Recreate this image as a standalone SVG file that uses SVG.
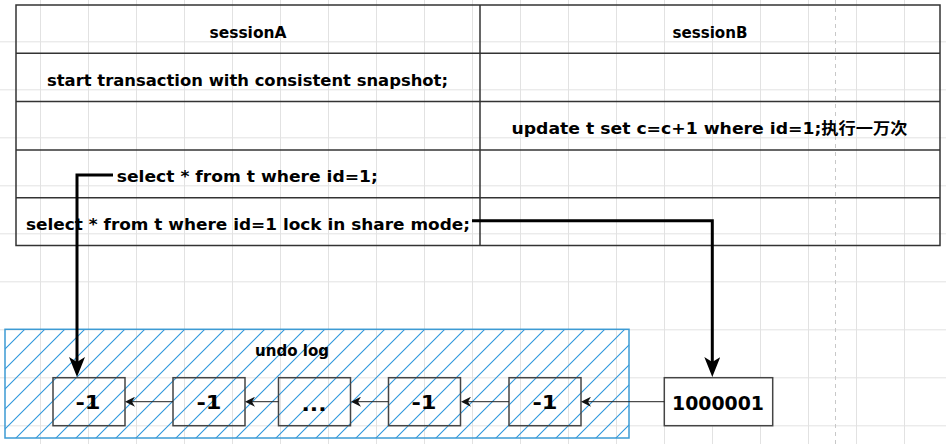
<svg xmlns="http://www.w3.org/2000/svg" width="946" height="444" viewBox="0 0 946 444">
  <defs>
    <pattern id="hatch" patternUnits="userSpaceOnUse" width="20" height="20" x="5" y="9">
      <path d="M-5,5 L5,-5 M0,20 L20,0 M15,25 L25,15" fill="none" style="stroke:#2f97dc;stroke-width:1.1"/>
    </pattern>
    <pattern id="grid" patternUnits="userSpaceOnUse" width="48" height="48" x="40" y="41.3">
      <path d="M0.5,0 L0.5,48 M0,0.5 L48,0.5" stroke="#e2e2e2" stroke-width="1" fill="none"/>
    </pattern>
    <marker id="bigArrow" viewBox="0 0 20 16" markerUnits="userSpaceOnUse" markerWidth="20" markerHeight="16" refX="15" refY="8" orient="auto">
      <path d="M0,0 L20,8 L0,16 L5,8 Z" fill="#000"/>
    </marker>
    <marker id="smallArrow" viewBox="0 0 10 10" markerUnits="userSpaceOnUse" markerWidth="10" markerHeight="10" refX="7" refY="5" orient="auto">
      <path d="M0,0 L10,5 L0,10 L3,5 Z" fill="#111"/>
    </marker>
  </defs>
  <style>
    .t { font-family: "DejaVu Sans", "Noto Sans CJK SC", sans-serif; font-weight: bold; font-size: 16px; fill: #000; text-anchor: middle; }
    .cell { fill: none; stroke: #333; stroke-width: 1.5; }
    .box { fill: none; stroke: #444; stroke-width: 1.5; }
    .num { font-family: "DejaVu Sans", sans-serif; font-weight: bold; font-size: 20px; fill: #000; text-anchor: middle; }
    .thick { fill: none; stroke: #000; stroke-width: 3; }
    .thin { fill: none; stroke: #222; stroke-width: 1; }
  </style>
  <rect x="0" y="0" width="946" height="444" fill="#fff"/>
  <rect x="0" y="0" width="946" height="444" fill="url(#grid)"/>
  <line x1="835.5" y1="0" x2="835.5" y2="444" stroke="#c8c8c8" stroke-width="1" stroke-dasharray="4,4"/>

  <g id="table">
    <rect class="cell" x="16" y="5" width="924" height="240.5"/>
    <line class="cell" x1="16" y1="53.3" x2="940" y2="53.3"/>
    <line class="cell" x1="16" y1="101.6" x2="940" y2="101.6"/>
    <line class="cell" x1="16" y1="149.9" x2="940" y2="149.9"/>
    <line class="cell" x1="16" y1="197.7" x2="940" y2="197.7"/>
    <line class="cell" x1="480" y1="5" x2="480" y2="245.5"/>
  </g>
  <g id="cellA0"><text class="t" x="248" y="37.5" textLength="77" lengthAdjust="spacingAndGlyphs">sessionA</text></g>
  <g id="cellB0"><text class="t" x="710" y="37.5" textLength="75" lengthAdjust="spacingAndGlyphs">sessionB</text></g>
  <g id="cellA1"><text class="t" x="247.5" y="86" textLength="401" lengthAdjust="spacingAndGlyphs">start transaction with consistent snapshot;</text></g>
  <g id="cellB2"><text class="t" x="709.5" y="134" textLength="396" lengthAdjust="spacingAndGlyphs">update t set c=c+1 where id=1;执行一万次</text></g>
  <g id="cellA3"><text class="t" x="247.3" y="182" textLength="261" lengthAdjust="spacingAndGlyphs">select * from t where id=1;</text></g>
  <g id="cellA4"><text class="t" x="248" y="230" textLength="444" lengthAdjust="spacingAndGlyphs">select * from t where id=1 lock in share mode;</text></g>

  <g id="undolog">
    <rect x="5" y="329.3" width="624" height="108.7" fill="url(#hatch)" stroke="#3d9bd4" stroke-width="1.5"/>
    <text class="t" x="292" y="356" textLength="74" lengthAdjust="spacingAndGlyphs">undo log</text>
  </g>
  <g id="v1"><rect class="box" x="53" y="377.7" width="72" height="48"/><text class="num" x="88" y="409" textLength="25" lengthAdjust="spacingAndGlyphs">-1</text></g>
  <g id="v2"><rect class="box" x="173" y="377.7" width="72" height="48"/><text class="num" x="209" y="409" textLength="25" lengthAdjust="spacingAndGlyphs">-1</text></g>
  <g id="v3"><rect class="box" x="278.5" y="377.7" width="72" height="48"/><text class="num" x="314" y="411" textLength="25" lengthAdjust="spacingAndGlyphs">...</text></g>
  <g id="v4"><rect class="box" x="388.5" y="377.7" width="72" height="48"/><text class="num" x="424" y="409" textLength="25" lengthAdjust="spacingAndGlyphs">-1</text></g>
  <g id="v5"><rect class="box" x="509" y="377.7" width="72" height="48"/><text class="num" x="545" y="409" textLength="25" lengthAdjust="spacingAndGlyphs">-1</text></g>
  <g id="current"><rect x="664.3" y="377.7" width="108.4" height="48" fill="#fff" stroke="#444" stroke-width="1.5"/><text class="num" x="718" y="410" font-size="22" textLength="92" lengthAdjust="spacingAndGlyphs">1000001</text></g>

  <g id="connectors">
    <path class="thick" d="M113,175 L77,175 L77,372" marker-end="url(#bigArrow)"/>
    <path class="thick" d="M472,220.7 L712.3,220.7 L712.3,372" marker-end="url(#bigArrow)"/>
    <path class="thin" d="M664.3,401.7 L584,401.7" marker-end="url(#smallArrow)"/>
    <path class="thin" d="M509,401.7 L464,401.7" marker-end="url(#smallArrow)"/>
    <path class="thin" d="M388.5,401.7 L354,401.7" marker-end="url(#smallArrow)"/>
    <path class="thin" d="M278.5,401.7 L248,401.7" marker-end="url(#smallArrow)"/>
    <path class="thin" d="M173,401.7 L128,401.7" marker-end="url(#smallArrow)"/>
  </g>
</svg>
